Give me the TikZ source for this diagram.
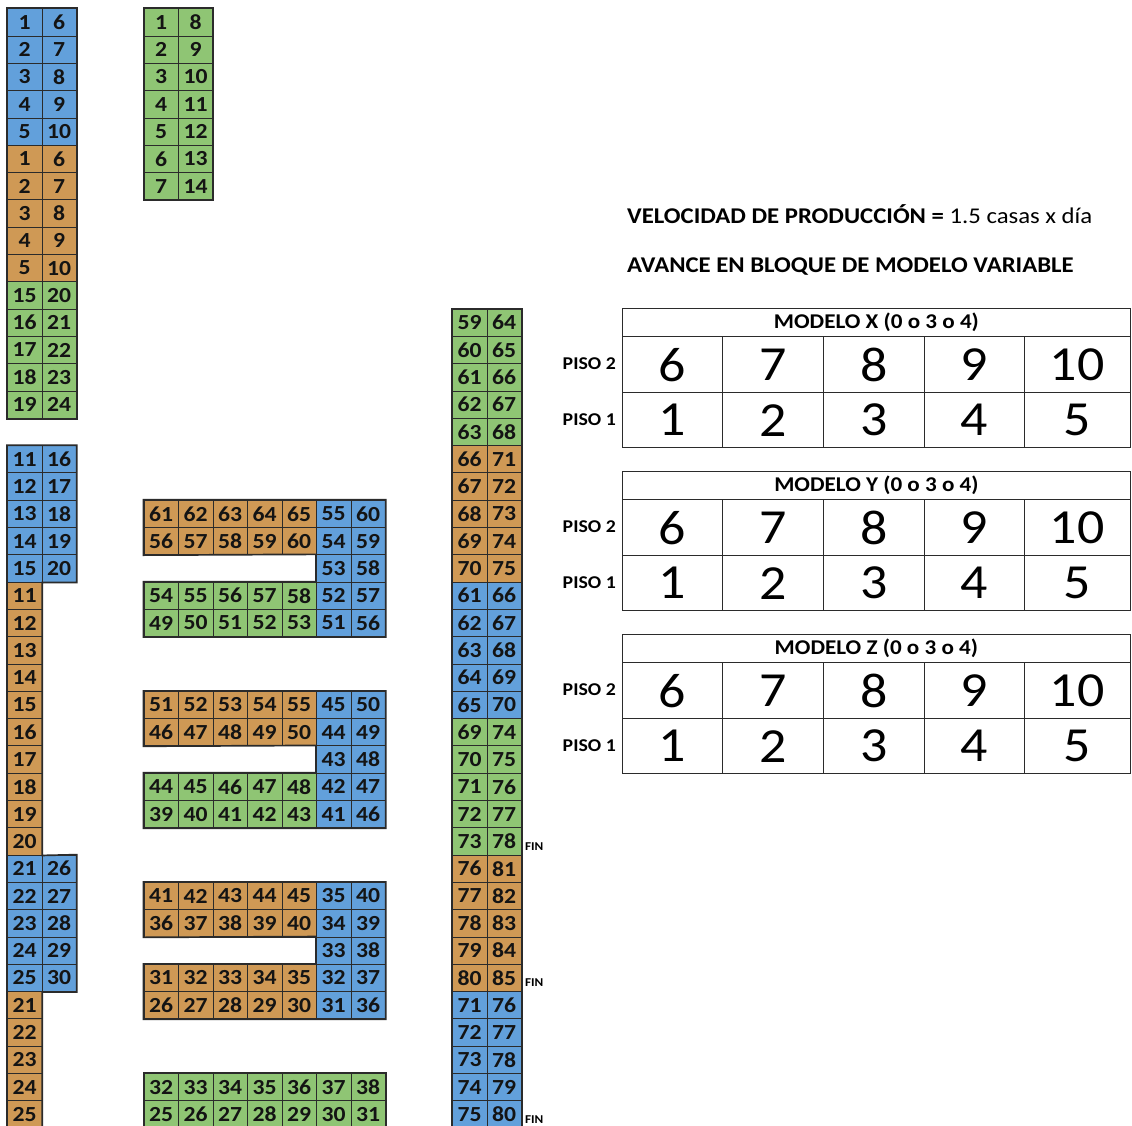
\documentclass[tikz,border=0pt]{standalone}
\usepackage{fontspec}
\setmainfont{Carlito}[FakeStretch=1.1]
\definecolor{cb}{HTML}{62A0DB}
\definecolor{co}{HTML}{CF9955}
\definecolor{cg}{HTML}{8FC574}
\definecolor{ln}{HTML}{2B2B2B}
\tikzset{
  cellbox/.style={draw=ln, line width=0.8pt, minimum width=34.5pt, minimum height=27.3pt,
    inner sep=0pt, anchor=north west, font=\fontsize{21.5}{21.5}\selectfont\bfseries, text=black!92},
  outline/.style={draw=ln, line width=1.7pt},
  tline/.style={draw=ln, line width=1.3pt},
  hdr/.style={tline, anchor=north west, minimum width=507.5pt, minimum height=28pt, inner sep=0pt,
    font=\fontsize{21}{21}\selectfont\bfseries},
  numcell/.style={tline, anchor=north west, inner sep=0pt, font=\fontsize{49}{49}\selectfont},
  piso/.style={anchor=east, inner sep=0pt, font=\fontsize{18}{18}\selectfont\bfseries},
  fin/.style={anchor=base west, inner sep=0pt, font=\fontsize{12}{12}\selectfont\bfseries},
  title/.style={anchor=west, inner sep=0pt, font=\fontsize{22.5}{22.5}\selectfont}
}
\newcommand\C[4]{%
  \pgfmathsetmacro\xx{(#1<2) ? (7+34.5*#1) : ((#1<9) ? (143.5+34.5*(#1-2)) : (452+34.5*(#1-9)))}%
  \pgfmathsetmacro\yy{8.35+27.3*#2}%
  \node[cellbox, fill=#3] (c#1-#2) at (\xx,\yy) {#4};}
\newcommand\ColF[5]{\foreach \k in {#2,...,#3}{\pgfmathtruncatemacro\tnum{#5}\C{#1}{\k}{#4}{\tnum}}}
\newcommand\RowF[5]{\foreach \g in {#2,...,#3}{\pgfmathtruncatemacro\tnum{#5}\C{\g}{#1}{#4}{\tnum}}}
\newcommand\Tab[2]{%
  \node[hdr] (h#2) at (622,{308+#1}) {MODELO #2 (0 o 3 o 4)};
  \foreach \x/\w/\a/\b [count=\i] in {622/100/6/1, 722/100.5/7/2, 822.5/101/8/3, 923.5/100/9/4, 1023.5/106/10/5}{
    \node[numcell, minimum width=\w pt, minimum height=56pt] (u#2\i) at (\x,{336+#1}) {\a};
    \node[numcell, minimum width=\w pt, minimum height=55pt] (l#2\i) at (\x,{392+#1}) {\b};
  }
  \node[piso] (pa#2) at (616,{364+#1}) {PISO 2};
  \node[piso] (pb#2) at (616,{419.5+#1}) {PISO 1};
}
\begin{document}
\begin{tikzpicture}[x=1pt,y=-1pt]
\useasboundingbox (0,0) rectangle (1132,1126);
\fill[white] (0,0) rectangle (1132,1126);
% left column
\ColF{0}{0}{4}{cb}{\k+1}\ColF{1}{0}{4}{cb}{\k+6}
\ColF{0}{5}{9}{co}{\k-4}\ColF{1}{5}{9}{co}{\k+1}
\ColF{0}{10}{14}{cg}{\k+5}\ColF{1}{10}{14}{cg}{\k+10}
\ColF{0}{16}{20}{cb}{\k-5}\ColF{1}{16}{20}{cb}{\k}
\ColF{0}{21}{30}{co}{\k-10}
\ColF{0}{31}{35}{cb}{\k-10}\ColF{1}{31}{35}{cb}{\k-5}
\ColF{0}{36}{40}{co}{\k-15}
% small green block
\ColF{2}{0}{6}{cg}{\k+1}\ColF{3}{0}{6}{cg}{\k+8}
% block A
\RowF{18}{2}{6}{co}{\g+59}\RowF{19}{2}{6}{co}{\g+54}
\RowF{21}{2}{6}{cg}{\g+52}\RowF{22}{2}{6}{cg}{\g+47}
\ColF{7}{18}{22}{cb}{73-\k}\ColF{8}{18}{22}{cb}{78-\k}
% block B
\RowF{25}{2}{6}{co}{\g+49}\RowF{26}{2}{6}{co}{\g+44}
\RowF{28}{2}{6}{cg}{\g+42}\RowF{29}{2}{6}{cg}{\g+37}
\ColF{7}{25}{29}{cb}{70-\k}\ColF{8}{25}{29}{cb}{75-\k}
% block C
\RowF{32}{2}{6}{co}{\g+39}\RowF{33}{2}{6}{co}{\g+34}
\RowF{35}{2}{6}{co}{\g+29}\RowF{36}{2}{6}{co}{\g+24}
\ColF{7}{32}{36}{cb}{67-\k}\ColF{8}{32}{36}{cb}{72-\k}
% block D
\RowF{39}{2}{8}{cg}{\g+30}\RowF{40}{2}{8}{cg}{\g+23}
% right column
\ColF{9}{11}{15}{cg}{\k+48}\ColF{10}{11}{15}{cg}{\k+53}
\ColF{9}{16}{20}{co}{\k+50}\ColF{10}{16}{20}{co}{\k+55}
\ColF{9}{21}{25}{cb}{\k+40}\ColF{10}{21}{25}{cb}{\k+45}
\ColF{9}{26}{30}{cg}{\k+43}\ColF{10}{26}{30}{cg}{\k+48}
\ColF{9}{31}{35}{co}{\k+45}\ColF{10}{31}{35}{co}{\k+50}
\ColF{9}{36}{40}{cb}{\k+35}\ColF{10}{36}{40}{cb}{\k+40}
% outlines
\draw[outline] (c0-0.north west) rectangle (c1-14.south east);
\draw[outline] (c0-16.north west) -- (c1-16.north east) -- (c1-20.south east) -- (c0-20.south east)
  -- (c0-30.south east) -- (c1-31.north east) -- (c1-35.south east) -- (c0-35.south east)
  -- (c0-40.south east) -- (c0-40.south west) -- cycle;
\draw[outline] (c2-0.north west) rectangle (c3-6.south east);
\foreach \r/\s/\m/\p/\q in {18/22/20/21/19, 25/29/27/28/26, 32/36/34/35/33}{
  \draw[outline] (c2-\r.north west) -- (c8-\r.north east) -- (c8-\s.south east) -- (c2-\s.south west)
    -- (c2-\p.north west) -- (c7-\p.north west) -- (c7-\m.north west) -- (c2-\q.south west) -- cycle;
}
\draw[outline] (c2-39.north west) rectangle (c8-40.south east);
\draw[outline] (c9-11.north west) rectangle (c10-40.south east);
% FIN labels
\node[fin] (fin1) at ([xshift=3pt,yshift=5pt]c10-30.south east) {FIN};
\node[fin] (fin2) at ([xshift=3pt,yshift=5pt]c10-35.south east) {FIN};
\node[fin] (fin3) at ([xshift=3pt,yshift=5pt]c10-40.south east) {FIN};
% titles
\node[title] (vel) at (627,214) {\textbf{VELOCIDAD DE PRODUCCIÓN =} 1.5 casas x día};
\node[title] (ava) at (627,267) {\textbf{AVANCE EN BLOQUE DE MODELO VARIABLE}};
% tables
\Tab{0}{X}
\Tab{163}{Y}
\Tab{326}{Z}
\end{tikzpicture}
\end{document}
